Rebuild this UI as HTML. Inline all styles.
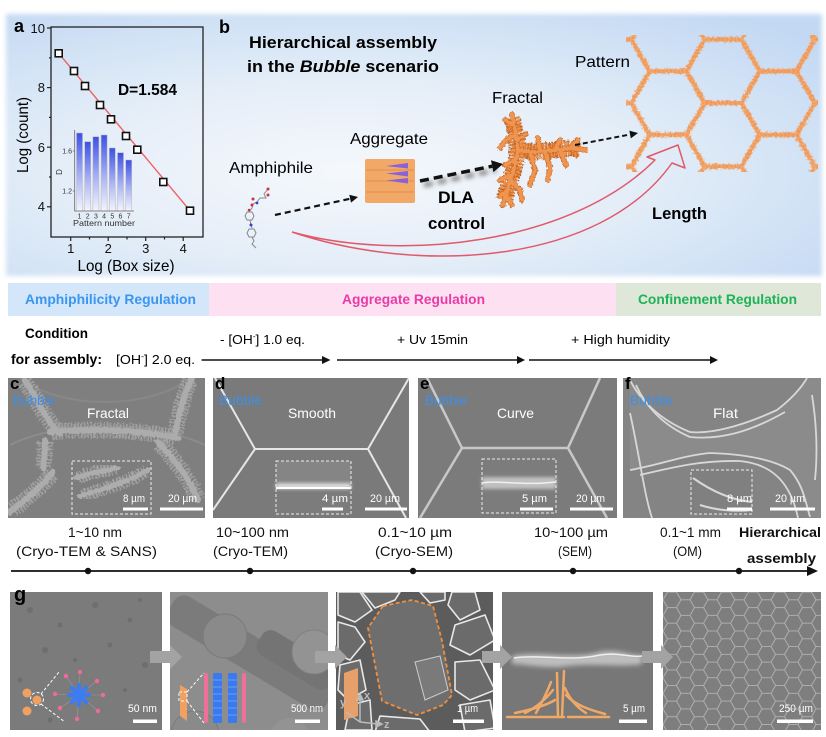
<!DOCTYPE html>
<html><head><meta charset="utf-8"><style>
html,body{margin:0;padding:0;background:#fff;}
svg{display:block;}
text{font-family:"Liberation Sans",Arial,sans-serif;}
</style></head><body>
<svg width="826" height="737" viewBox="0 0 826 737" xmlns="http://www.w3.org/2000/svg">
<defs>
 <radialGradient id="bgG" cx="0.42" cy="0.6" r="0.75">
  <stop offset="0" stop-color="#f5f8fc"/>
  <stop offset="0.45" stop-color="#e5eef8"/>
  <stop offset="1" stop-color="#c3d9f3"/>
 </radialGradient>
 <filter id="soft" x="-5%" y="-5%" width="110%" height="110%"><feGaussianBlur stdDeviation="2.5"/></filter>
 <filter id="blur1" x="-20%" y="-50%" width="140%" height="200%"><feGaussianBlur stdDeviation="1.5"/></filter>
 <filter id="blur2" x="-20%" y="-100%" width="140%" height="300%"><feGaussianBlur stdDeviation="2.5"/></filter>
 <filter id="rough" x="-10%" y="-10%" width="120%" height="120%">
  <feTurbulence type="fractalNoise" baseFrequency="0.4" numOctaves="2" seed="4" result="n"/>
  <feDisplacementMap in="SourceGraphic" in2="n" scale="4" xChannelSelector="R" yChannelSelector="G"/>
 </filter>
 <linearGradient id="barG" x1="0" y1="0" x2="0" y2="1">
  <stop offset="0" stop-color="#3c50e6"/>
  <stop offset="0.55" stop-color="#aab3f2"/>
  <stop offset="1" stop-color="#f4f5fd"/>
 </linearGradient>
 <pattern id="hexB" patternUnits="userSpaceOnUse" x="631.3" y="71.2" width="110.1" height="63.57">
  <path d="M0,31.785 L18.35,0 L55.05,0 L73.4,31.785 L55.05,63.57 L18.35,63.57 Z M73.4,31.785 L110.1,31.785" fill="none" stroke="#ef9a5a" stroke-width="4.5" stroke-linejoin="round"/>
  <path d="M0,31.785 L18.35,0 L55.05,0 L73.4,31.785 L55.05,63.57 L18.35,63.57 Z M73.4,31.785 L110.1,31.785" fill="none" stroke="#f4b27e" stroke-width="7" stroke-dasharray="1 3" opacity="0.8"/>
 </pattern>
 <pattern id="hexS" patternUnits="userSpaceOnUse" x="663" y="592" width="27" height="15.588">
  <path d="M0,7.794 L4.5,0 L13.5,0 L18,7.794 L13.5,15.588 L4.5,15.588 Z M18,7.794 L27,7.794" fill="none" stroke="#aeaeae" stroke-width="1"/>
 </pattern>
 <clipPath id="cpPat"><rect x="626" y="35" width="192" height="137"/></clipPath>
 <clipPath id="cpC"><rect x="8" y="378" width="197" height="140"/></clipPath>
 <clipPath id="cpD"><rect x="213" y="378" width="196" height="140"/></clipPath>
 <clipPath id="cpE"><rect x="418" y="378" width="199" height="140"/></clipPath>
 <clipPath id="cpF"><rect x="623" y="378" width="198" height="140"/></clipPath>
 <clipPath id="cpG1"><rect x="10" y="592" width="152" height="138"/></clipPath>
 <clipPath id="cpG2"><rect x="170" y="592" width="158" height="138"/></clipPath>
 <clipPath id="cpG3"><rect x="336" y="592" width="157" height="138"/></clipPath>
 <clipPath id="cpG4"><rect x="502" y="592" width="151" height="138"/></clipPath>
 <clipPath id="cpG5"><rect x="663" y="592" width="158" height="138"/></clipPath>
</defs>

<!-- ===== TOP BACKGROUND ===== -->
<rect x="6" y="14" width="816" height="262" fill="url(#bgG)" filter="url(#soft)"/>

<!-- ===== PANEL A ===== -->
<text x="14" y="32" font-size="18" font-weight="bold">a</text>
<rect x="51" y="27" width="152" height="210" fill="none" stroke="#222" stroke-width="1.3"/>
<g stroke="#222" stroke-width="1.2">
 <line x1="47" y1="28" x2="51" y2="28"/><line x1="47" y1="87.6" x2="51" y2="87.6"/>
 <line x1="47" y1="147.2" x2="51" y2="147.2"/><line x1="47" y1="206.8" x2="51" y2="206.8"/>
 <line x1="49" y1="57.8" x2="51" y2="57.8"/><line x1="49" y1="117.4" x2="51" y2="117.4"/>
 <line x1="49" y1="177" x2="51" y2="177"/>
 <line x1="70.7" y1="237" x2="70.7" y2="241"/><line x1="108.2" y1="237" x2="108.2" y2="241"/>
 <line x1="145.7" y1="237" x2="145.7" y2="241"/><line x1="183.2" y1="237" x2="183.2" y2="241"/>
 <line x1="89.5" y1="237" x2="89.5" y2="239.5"/><line x1="127" y1="237" x2="127" y2="239.5"/>
 <line x1="164.5" y1="237" x2="164.5" y2="239.5"/>
</g>
<g font-size="13" text-anchor="end" fill="#111">
 <text x="45" y="33">10</text><text x="45" y="92">8</text><text x="45" y="152">6</text><text x="45" y="211">4</text>
</g>
<g font-size="13" text-anchor="middle" fill="#111">
 <text x="70.7" y="253">1</text><text x="108.2" y="253">2</text><text x="145.7" y="253">3</text><text x="183.2" y="253">4</text>
</g>
<text x="126" y="271" font-size="16" text-anchor="middle" textLength="97" lengthAdjust="spacingAndGlyphs">Log (Box size)</text>
<text transform="translate(28,135) rotate(-90)" font-size="16" text-anchor="middle" textLength="76" lengthAdjust="spacingAndGlyphs">Log (count)</text>
<!-- inset -->
<g>
 <rect x="76.5" y="133" width="6" height="78" fill="url(#barG)" stroke="#bbb" stroke-width="0.5"/>
 <rect x="84.7" y="141.7" width="6" height="69.3" fill="url(#barG)" stroke="#bbb" stroke-width="0.5"/>
 <rect x="92.9" y="136.7" width="6" height="74.3" fill="url(#barG)" stroke="#bbb" stroke-width="0.5"/>
 <rect x="101.1" y="135" width="6" height="76" fill="url(#barG)" stroke="#bbb" stroke-width="0.5"/>
 <rect x="109.3" y="148" width="6" height="63" fill="url(#barG)" stroke="#bbb" stroke-width="0.5"/>
 <rect x="117.5" y="152.7" width="6" height="58.3" fill="url(#barG)" stroke="#bbb" stroke-width="0.5"/>
 <rect x="125.7" y="160" width="6" height="51" fill="url(#barG)" stroke="#bbb" stroke-width="0.5"/>
 <polyline points="74.7,130 74.7,211 134,211" fill="none" stroke="#666" stroke-width="0.8"/>
 <line x1="72.7" y1="151" x2="74.7" y2="151" stroke="#666" stroke-width="0.7"/>
 <line x1="72.7" y1="191" x2="74.7" y2="191" stroke="#666" stroke-width="0.7"/>
 <g font-size="7" fill="#333" text-anchor="end"><text x="72" y="153.5">1.6</text><text x="72" y="193.5">1.2</text></g>
 <text transform="translate(62,172) rotate(-90)" font-size="8" text-anchor="middle" fill="#333">D</text>
 <g font-size="7" fill="#333" text-anchor="middle">
  <text x="79.5" y="218.5">1</text><text x="87.7" y="218.5">2</text><text x="95.9" y="218.5">3</text><text x="104.1" y="218.5">4</text><text x="112.3" y="218.5">5</text><text x="120.5" y="218.5">6</text><text x="128.7" y="218.5">7</text>
 </g>
 <text x="104" y="226" font-size="8.5" fill="#333" text-anchor="middle" textLength="62" lengthAdjust="spacingAndGlyphs">Pattern number</text>
</g>
<line x1="58.7" y1="53.3" x2="190" y2="210.7" stroke="#f06060" stroke-width="1.4"/>
<g fill="#fff" stroke="#111" stroke-width="1.6">
 <rect x="55.2" y="49.8" width="7" height="7"/><rect x="70.5" y="67.5" width="7" height="7"/>
 <rect x="81.5" y="82.5" width="7" height="7"/><rect x="96.5" y="101.5" width="7" height="7"/>
 <rect x="107.5" y="115.8" width="7" height="7"/><rect x="122.5" y="132.5" width="7" height="7"/>
 <rect x="133.8" y="146.2" width="7" height="7"/><rect x="159.8" y="178.5" width="7" height="7"/>
 <rect x="186.5" y="207.2" width="7" height="7"/>
</g>
<text x="118" y="95" font-size="16" font-weight="bold" textLength="59" lengthAdjust="spacingAndGlyphs">D=1.584</text>

<!-- ===== PANEL B ===== -->
<text x="219" y="33" font-size="18" font-weight="bold">b</text>
<text x="249" y="48" font-size="17" font-weight="bold" textLength="188" lengthAdjust="spacingAndGlyphs">Hierarchical assembly</text>
<text x="247" y="72" font-size="17" font-weight="bold" textLength="192" lengthAdjust="spacingAndGlyphs">in the <tspan font-style="italic">Bubble</tspan> scenario</text>
<text x="575" y="67" font-size="16" textLength="55" lengthAdjust="spacingAndGlyphs">Pattern</text>
<text x="492" y="103" font-size="16" textLength="51" lengthAdjust="spacingAndGlyphs">Fractal</text>
<text x="350" y="144" font-size="16" textLength="78" lengthAdjust="spacingAndGlyphs">Aggregate</text>
<text x="229" y="173" font-size="16" textLength="84" lengthAdjust="spacingAndGlyphs">Amphiphile</text>
<text x="438" y="203" font-size="17" font-weight="bold" textLength="36" lengthAdjust="spacingAndGlyphs">DLA</text>
<text x="428" y="229" font-size="17" font-weight="bold" textLength="57" lengthAdjust="spacingAndGlyphs">control</text>
<text x="652" y="219" font-size="17" font-weight="bold" textLength="55" lengthAdjust="spacingAndGlyphs">Length</text>

<!-- honeycomb pattern -->
<g clip-path="url(#cpPat)">
 <g filter="url(#rough)">
  <rect x="600" y="20" width="240" height="170" fill="url(#hexB)"/>
 </g>
</g>

<!-- molecule -->
<g stroke="#888" stroke-width="1" fill="none">
 <polyline points="268,189 264,194 266,198 260,198 257,202 253,204 252,208 249,212"/>
 <polygon points="247,212 252,212 254,216 252,220 247,220 245,216"/>
 <polyline points="250,220 251,225 252,228"/>
 <polygon points="249,229 254,229 256,233 254,237 249,237 247,233"/>
 <polyline points="252,237 254,241 252,244 256,248"/>
</g>
<g>
 <circle cx="268" cy="189" r="1.5" fill="#d0304a"/><circle cx="268" cy="195" r="1.5" fill="#d0304a"/>
 <circle cx="253" cy="199" r="1.5" fill="#d0304a"/><circle cx="252" cy="205" r="1.5" fill="#d0304a"/>
 <circle cx="257" cy="203" r="1.4" fill="#3344cc"/><circle cx="251" cy="225" r="1.5" fill="#3344cc"/>
 <circle cx="249" cy="210" r="1.3" fill="#d0304a"/>
</g>

<!-- aggregate block -->
<rect x="365" y="159" width="50" height="44" rx="2" fill="#f2a866"/>
<g stroke="#e08e4c" stroke-width="1">
 <line x1="366" y1="170" x2="414" y2="170"/><line x1="366" y1="181" x2="414" y2="181"/><line x1="366" y1="192" x2="414" y2="192"/>
</g>
<g fill="#8a62d8">
 <polygon points="386,166 408,163 408,168.5"/>
 <polygon points="386,173.5 408,171 408,176.5"/>
 <polygon points="386,180.5 408,178 408,183.5"/>
</g>

<!-- fractal -->
<g fill="none" stroke-linejoin="round" filter="url(#rough)">
 <g stroke="#c06828" stroke-width="17" stroke-dasharray="2.2 1" stroke-linecap="butt">
  <path d="M512,118 L515,130 L518,150 L514,170 L508,188 L504,200"/>
  <path d="M520,150 L535,152 L555,150 L570,148 L580,150"/>
 </g>
 <g stroke="#f0904a" stroke-width="14" stroke-dasharray="1.6 1.2" stroke-linecap="butt">
  <path d="M512,118 L515,130 L518,150 L514,170 L508,188 L504,200"/>
  <path d="M520,150 L535,152 L555,150 L570,148 L580,150"/>
 </g>
 <g stroke="#c86a28" stroke-width="5.5" stroke-linecap="round">
  <path d="M512,114 L515,130 L518,150 L514,170 L508,188 L503,205"/>
  <path d="M518,150 L535,152 L555,150 L572,148 L586,150"/>
  <path d="M530,152 L535,170 L530,185 M545,151 L550,168 L548,180 M560,150 L566,165 M540,151 L538,138 M555,150 L560,140 M570,149 L578,140 M514,125 L505,120 M516,135 L506,140 L500,148 M515,160 L505,165 M512,175 L500,180 M508,190 L500,196 M510,180 L520,190 L522,200 M506,195 L512,205 M517,140 L526,134"/>
 </g>
 <g stroke="#f09550" stroke-width="4" stroke-linecap="round">
  <path d="M512,114 L515,130 L518,150 L514,170 L508,188 L503,205"/>
  <path d="M518,150 L535,152 L555,150 L572,148 L586,150"/>
  <path d="M530,152 L535,170 L530,185 M545,151 L550,168 L548,180 M560,150 L566,165 M540,151 L538,138 M555,150 L560,140 M570,149 L578,140 M514,125 L505,120 M516,135 L506,140 L500,148 M515,160 L505,165 M512,175 L500,180 M508,190 L500,196 M510,180 L520,190 L522,200 M506,195 L512,205 M517,140 L526,134"/>
 </g>
</g>

<!-- dashed arrows -->
<line x1="275" y1="215" x2="350.2" y2="198.7" stroke="#111" stroke-width="2.2" stroke-dasharray="6 4"/>
<polygon points="358,197 351,202.6 349.3,194.8" fill="#111"/>
<line x1="424" y1="185" x2="496" y2="170" stroke="#888" stroke-width="5" stroke-dasharray="9 5" filter="url(#blur2)"/>
<line x1="420" y1="181" x2="492.2" y2="166.2" stroke="#111" stroke-width="3.5" stroke-dasharray="9 5"/>
<polygon points="503,164 493.4,172.1 491,160.3" fill="#111"/>
<line x1="575" y1="145" x2="630.1" y2="134.5" stroke="#111" stroke-width="2" stroke-dasharray="5 3"/>
<polygon points="638,133 630.8,138.4 629.4,130.6" fill="#111"/>

<!-- red hollow arrow -->
<g fill="none" stroke="#e05a6c" stroke-width="1.5" stroke-linejoin="round">
 <path d="M292,232 C400,262 570,245 655,160 L647,157 L678,145 L685,168 L672,163 C600,265 420,275 292,232"/>
</g>

<!-- ===== REGULATION BAND ===== -->
<rect x="8" y="283" width="201" height="33" fill="#d3e6fa"/>
<rect x="209" y="283" width="407" height="33" fill="#fde0f2"/>
<rect x="616" y="283" width="205" height="33" fill="#dfe7d8"/>
<text x="25" y="304" font-size="14" font-weight="bold" fill="#3a96f0" textLength="171" lengthAdjust="spacingAndGlyphs">Amphiphilicity Regulation</text>
<text x="342" y="304" font-size="14" font-weight="bold" fill="#ea3aa6" textLength="143" lengthAdjust="spacingAndGlyphs">Aggregate Regulation</text>
<text x="638" y="304" font-size="14" font-weight="bold" fill="#1db356" textLength="159" lengthAdjust="spacingAndGlyphs">Confinement Regulation</text>

<!-- conditions -->
<text x="25" y="338" font-size="13.5" font-weight="bold" textLength="63" lengthAdjust="spacingAndGlyphs">Condition</text>
<text x="11" y="364" font-size="13.5" font-weight="bold" textLength="91" lengthAdjust="spacingAndGlyphs">for assembly:</text>
<text x="116" y="364" font-size="13" textLength="79" lengthAdjust="spacingAndGlyphs">[OH<tspan font-size="8" dy="-5">-</tspan><tspan dy="5">] 2.0 eq.</tspan></text>
<text x="220" y="344" font-size="13" textLength="85" lengthAdjust="spacingAndGlyphs">- [OH<tspan font-size="8" dy="-5">-</tspan><tspan dy="5">] 1.0 eq.</tspan></text>
<text x="397" y="344" font-size="13" textLength="71" lengthAdjust="spacingAndGlyphs">+ Uv 15min</text>
<text x="571" y="344" font-size="13" textLength="99" lengthAdjust="spacingAndGlyphs">+  High humidity</text>
<g stroke="#111" stroke-width="1.6">
 <line x1="201.6" y1="360" x2="324" y2="360"/><line x1="337" y1="360" x2="519" y2="360"/><line x1="529" y1="360" x2="712" y2="360"/>
</g>
<g fill="#111">
 <polygon points="330.5,360 322,356 322,364"/><polygon points="525,360 517,356 517,364"/><polygon points="718,360 710,356 710,364"/>
</g>

<!-- ===== PANEL C ===== -->
<g clip-path="url(#cpC)">
 <rect x="8" y="378" width="197" height="140" fill="#7f7f7f"/>
 <path d="M10,445 C60,420 150,420 205,445" fill="none" stroke="#8c8c8c" stroke-width="2"/>
 <path d="M20,378 C60,410 150,410 190,378" fill="none" stroke="#888" stroke-width="2"/>
 <g fill="none" filter="url(#rough)">
  <g stroke="#a0a0a0" stroke-width="16" stroke-dasharray="1.8 1.4" stroke-linecap="butt">
   <path d="M25,382 C38,400 45,420 60,433"/>
   <path d="M52,432 C90,428 140,430 176,438"/>
   <path d="M190,380 C184,395 178,415 175,434"/>
   <path d="M160,444 C175,460 190,480 198,500"/>
   <path d="M45,442 C45,455 44,462 43,468"/>
   <path d="M52,474 C38,490 25,500 12,510"/>
  </g>
  <g stroke="#acacac" stroke-width="6" stroke-linecap="round">
   <path d="M25,380 C38,400 45,420 60,433"/>
   <path d="M50,432 C90,428 140,430 178,438"/>
   <path d="M192,378 C184,395 178,415 175,436"/>
   <path d="M158,442 C175,460 190,480 198,500"/>
   <path d="M45,440 C45,455 44,462 43,468"/>
   <path d="M53,472 C38,490 25,500 10,512"/>
  </g>
 </g>
 <rect x="72" y="461" width="79" height="53" fill="#7d7d7d"/>
 <g fill="none" filter="url(#rough)">
  <g stroke="#a3a3a3" stroke-width="13" stroke-dasharray="1.8 1.6" stroke-linecap="butt">
   <path d="M78,478 C92,472 105,471 116,468"/><path d="M82,496 C100,490 128,482 146,471"/>
  </g>
  <g stroke="#adadad" stroke-width="5" stroke-linecap="round">
   <path d="M76,478 C92,472 105,471 118,468"/><path d="M80,496 C100,490 128,482 148,470"/>
  </g>
 </g>
 <rect x="72" y="461" width="79" height="53" fill="none" stroke="#eee" stroke-width="1" stroke-dasharray="3 2"/>
</g>
<text x="10" y="389" font-size="17" font-weight="bold">c</text>
<text x="13" y="405" font-size="14" fill="#3d8fe8" textLength="42" lengthAdjust="spacingAndGlyphs">Bubble</text>
<text x="87" y="418" font-size="14" fill="#fff" textLength="42" lengthAdjust="spacingAndGlyphs">Fractal</text>

<!-- ===== PANEL D ===== -->
<g clip-path="url(#cpD)">
 <rect x="213" y="378" width="196" height="140" fill="#7a7a7a"/>
 <g fill="none" stroke="#e6e6e6" stroke-width="2">
  <polyline points="215,378 255,449 368,449 409,378"/>
  <line x1="255" y1="449" x2="213" y2="510"/>
  <line x1="368" y1="449" x2="406" y2="518"/>
 </g>
 <rect x="276" y="461" width="75" height="53" fill="#7c7c7c"/>
 <rect x="276" y="461" width="75" height="22" fill="#858585"/>
 <rect x="276" y="483" width="75" height="6" fill="#dcdcdc" filter="url(#blur1)"/>
 <line x1="276" y1="488" x2="351" y2="488" stroke="#fff" stroke-width="2"/>
 <rect x="276" y="461" width="75" height="53" fill="none" stroke="#eee" stroke-width="1" stroke-dasharray="3 2"/>
</g>
<text x="215" y="389" font-size="17" font-weight="bold">d</text>
<text x="219" y="405" font-size="14" fill="#3d8fe8" textLength="43" lengthAdjust="spacingAndGlyphs">Bubble</text>
<text x="288" y="418" font-size="14" fill="#fff" textLength="48" lengthAdjust="spacingAndGlyphs">Smooth</text>

<!-- ===== PANEL E ===== -->
<g clip-path="url(#cpE)">
 <rect x="418" y="378" width="199" height="140" fill="#7b7b7b"/>
 <g fill="none" stroke="#c8c8c8" stroke-width="2.5">
  <polyline points="427,378 462,448 568,448 600,378"/>
  <line x1="462" y1="448" x2="420" y2="518"/>
  <line x1="568" y1="448" x2="607" y2="518"/>
 </g>
 <rect x="482" y="459" width="74" height="54" fill="#7c7c7c"/>
 <rect x="482" y="477" width="74" height="12" fill="#c0c0c0" filter="url(#blur1)"/>
 <path d="M482,483 C500,480 520,486 556,482" stroke="#f0f0f0" stroke-width="1.5" fill="none"/>
 <rect x="482" y="459" width="74" height="54" fill="none" stroke="#eee" stroke-width="1" stroke-dasharray="3 2"/>
</g>
<text x="420" y="389" font-size="17" font-weight="bold">e</text>
<text x="425" y="405" font-size="14" fill="#3d8fe8" textLength="42" lengthAdjust="spacingAndGlyphs">Bubble</text>
<text x="497" y="418" font-size="14" fill="#fff" textLength="37" lengthAdjust="spacingAndGlyphs">Curve</text>

<!-- ===== PANEL F ===== -->
<g clip-path="url(#cpF)">
 <rect x="623" y="378" width="198" height="140" fill="#848484"/>
 <path d="M630,380 C640,400 660,420 690,432 C710,434 740,427 777,410 C790,400 800,390 807,378 L821,378 L821,518 L810,517 C805,500 803,485 790,470 C770,458 740,454 710,453 C680,456 660,465 630,470 Z" fill="#8b8b8b"/>
 <g fill="none" stroke="#d8d8d8" stroke-width="1.8">
  <path d="M630,380 C640,400 660,420 690,432 C710,434 740,427 777,410 C790,400 800,390 807,378"/>
  <path d="M630,470 C660,465 680,456 710,453 C740,454 770,458 790,470 C803,485 805,500 810,517"/>
  <path d="M636,385 C645,405 662,425 690,437 C720,440 750,432 785,412"/>
  <path d="M640,475 C670,468 700,460 740,461 C770,464 790,480 798,518"/>
  <path d="M630,413 C636,440 640,465 645,490 C648,505 650,512 652,518"/>
  <path d="M812,395 C816,420 818,450 815,480"/>
 </g>
 <rect x="691" y="470" width="61" height="44" fill="#808080"/>
 <g fill="none" stroke="#d8d8d8" stroke-width="2"><path d="M693,478 C710,490 730,500 752,502"/><path d="M700,505 C715,510 735,512 752,510"/></g>
 <rect x="691" y="470" width="61" height="44" fill="none" stroke="#eee" stroke-width="1" stroke-dasharray="3 2"/>
</g>
<text x="625" y="389" font-size="17" font-weight="bold">f</text>
<text x="630" y="405" font-size="14" fill="#3d8fe8" textLength="43" lengthAdjust="spacingAndGlyphs">Bubble</text>
<text x="713" y="418" font-size="14" fill="#fff" textLength="25" lengthAdjust="spacingAndGlyphs">Flat</text>

<!-- scale bars c-f -->
<g fill="#fff" font-size="11">
 <text x="123" y="502" textLength="22" lengthAdjust="spacingAndGlyphs">8 µm</text>
 <text x="168" y="502" textLength="29" lengthAdjust="spacingAndGlyphs">20 µm</text>
 <text x="322" y="502" textLength="26" lengthAdjust="spacingAndGlyphs">4 µm</text>
 <text x="370" y="502" textLength="30" lengthAdjust="spacingAndGlyphs">20 µm</text>
 <text x="522" y="502" textLength="25" lengthAdjust="spacingAndGlyphs">5 µm</text>
 <text x="576" y="502" textLength="29" lengthAdjust="spacingAndGlyphs">20 µm</text>
 <text x="727" y="502" textLength="25" lengthAdjust="spacingAndGlyphs">8 µm</text>
 <text x="775" y="502" textLength="30" lengthAdjust="spacingAndGlyphs">20 µm</text>
 <rect x="123" y="507.5" width="25" height="3"/><rect x="160" y="507.5" width="43" height="3"/>
 <rect x="322" y="507.5" width="21" height="3"/><rect x="365" y="507.5" width="42" height="3"/>
 <rect x="520" y="507.5" width="33" height="3"/><rect x="570" y="507.5" width="43" height="3"/>
 <rect x="727" y="507.5" width="25" height="3"/><rect x="770" y="507.5" width="45" height="3"/>
</g>

<!-- ===== SCALE ROW ===== -->
<g font-size="14" fill="#111">
 <text x="68" y="537" textLength="54" lengthAdjust="spacingAndGlyphs">1~10 nm</text>
 <text x="16" y="556" textLength="141" lengthAdjust="spacingAndGlyphs">(Cryo-TEM &amp; SANS)</text>
 <text x="216" y="537" textLength="73" lengthAdjust="spacingAndGlyphs">10~100 nm</text>
 <text x="213" y="556" textLength="75" lengthAdjust="spacingAndGlyphs">(Cryo-TEM)</text>
 <text x="378" y="537" textLength="74" lengthAdjust="spacingAndGlyphs">0.1~10 µm</text>
 <text x="375" y="556" textLength="78" lengthAdjust="spacingAndGlyphs">(Cryo-SEM)</text>
 <text x="534" y="537" textLength="74" lengthAdjust="spacingAndGlyphs">10~100 µm</text>
 <text x="558" y="556" textLength="34" lengthAdjust="spacingAndGlyphs">(SEM)</text>
 <text x="660" y="537" textLength="61" lengthAdjust="spacingAndGlyphs">0.1~1 mm</text>
 <text x="673" y="556" textLength="29" lengthAdjust="spacingAndGlyphs">(OM)</text>
 <text x="739" y="537" font-weight="bold" textLength="82" lengthAdjust="spacingAndGlyphs">Hierarchical</text>
 <text x="747" y="563" font-weight="bold" textLength="69" lengthAdjust="spacingAndGlyphs">assembly</text>
</g>
<line x1="11" y1="571" x2="810" y2="571" stroke="#111" stroke-width="1.8"/>
<polygon points="818,571 807,566 807,576" fill="#111"/>
<g fill="#111"><circle cx="88" cy="571" r="3.2"/><circle cx="250" cy="571" r="3.2"/><circle cx="413" cy="571" r="3.2"/><circle cx="573" cy="571" r="3.2"/><circle cx="739" cy="571" r="3.2"/></g>

<!-- ===== PANEL G ===== -->
<!-- g1 -->
<g clip-path="url(#cpG1)">
 <rect x="10" y="592" width="152" height="138" fill="#7b7b7b"/>
 <g fill="#6e6e6e">
  <circle cx="30" cy="610" r="3"/><circle cx="60" cy="625" r="2.5"/><circle cx="95" cy="605" r="3"/><circle cx="130" cy="620" r="2.5"/>
  <circle cx="45" cy="650" r="3"/><circle cx="110" cy="645" r="2.5"/><circle cx="145" cy="665" r="3"/><circle cx="75" cy="660" r="2"/>
  <circle cx="140" cy="600" r="2"/><circle cx="20" cy="680" r="2.5"/><circle cx="125" cy="690" r="2"/><circle cx="50" cy="720" r="2.5"/>
 </g>
 <g stroke="#999" stroke-width="0.6">
  <line x1="79" y1="695" x2="66" y2="676"/><line x1="79" y1="695" x2="80" y2="672"/><line x1="79" y1="695" x2="97" y2="681"/>
  <line x1="79" y1="695" x2="103" y2="695"/><line x1="79" y1="695" x2="98" y2="711"/><line x1="79" y1="695" x2="77" y2="719"/>
  <line x1="79" y1="695" x2="60" y2="708"/><line x1="79" y1="695" x2="55" y2="694"/>
 </g>
 <g fill="#3b7cf5" transform="translate(79,695)">
  <rect x="-2" y="-12" width="4" height="9" rx="1"/>
  <rect x="-2" y="-12" width="4" height="9" rx="1" transform="rotate(45)"/>
  <rect x="-2" y="-12" width="4" height="9" rx="1" transform="rotate(90)"/>
  <rect x="-2" y="-12" width="4" height="9" rx="1" transform="rotate(135)"/>
  <rect x="-2" y="-12" width="4" height="9" rx="1" transform="rotate(180)"/>
  <rect x="-2" y="-12" width="4" height="9" rx="1" transform="rotate(225)"/>
  <rect x="-2" y="-12" width="4" height="9" rx="1" transform="rotate(270)"/>
  <rect x="-2" y="-12" width="4" height="9" rx="1" transform="rotate(315)"/>
  <circle r="3.5"/>
 </g>
 <g fill="#f06a9a">
  <circle cx="66" cy="676" r="2.2"/><circle cx="80" cy="672" r="2.2"/><circle cx="97" cy="681" r="2.2"/><circle cx="103" cy="695" r="2.2"/>
  <circle cx="98" cy="711" r="2.2"/><circle cx="77" cy="719" r="2.2"/><circle cx="60" cy="708" r="2.2"/><circle cx="55" cy="694" r="2.2"/>
 </g>
 <g fill="#f0a060"><circle cx="27" cy="693" r="4.5"/><circle cx="37" cy="700" r="4.5"/><circle cx="27" cy="711" r="4.5"/></g>
 <g fill="none" stroke="#fff" stroke-width="1" stroke-dasharray="3 2">
  <circle cx="37" cy="699" r="6.5"/><line x1="41" y1="694" x2="59" y2="672"/><line x1="41" y1="704" x2="65" y2="722"/>
 </g>
</g>
<text x="14" y="601" font-size="20" font-weight="bold">g</text>

<!-- g2 -->
<g clip-path="url(#cpG2)">
 <rect x="170" y="592" width="158" height="138" fill="#8d8d8d"/>
 <g transform="translate(250,653) rotate(31)">
  <rect x="-92" y="-17" width="184" height="34" rx="12" fill="#7b7b7b"/>
 </g>
 <g transform="translate(296,660) rotate(31)">
  <rect x="-42" y="-14" width="84" height="28" rx="10" fill="#747474"/>
 </g>
 <circle cx="225" cy="636" r="22" fill="#8a8a8a" stroke="#7a7a7a" stroke-width="1"/>
 <circle cx="314" cy="652" r="22" fill="#939393" stroke="#808080" stroke-width="1"/>
 <circle cx="195" cy="735" r="24" fill="#8a8a8a" stroke="#7a7a7a" stroke-width="1"/>
 <circle cx="290" cy="738" r="20" fill="#939393"/>
 <polygon points="180,685 187,689 187,721 180,716" fill="#f0a060"/>
 <g fill="none" stroke="#fff" stroke-width="1" stroke-dasharray="3 2">
  <rect x="179" y="692" width="8" height="9"/><line x1="187" y1="692" x2="204" y2="673"/><line x1="187" y1="701" x2="204" y2="723"/>
 </g>
 <rect x="204" y="673" width="4" height="50" rx="2" fill="#f0709a"/>
 <rect x="213" y="673" width="9" height="50" rx="1.5" fill="#3a7af0"/>
 <rect x="228" y="673" width="9" height="50" rx="1.5" fill="#3a7af0"/>
 <rect x="242" y="673" width="4" height="50" rx="2" fill="#f0709a"/>
 <g stroke="#7aa6f6" stroke-width="0.8">
  <line x1="213" y1="680" x2="222" y2="680"/><line x1="213" y1="687" x2="222" y2="687"/><line x1="213" y1="694" x2="222" y2="694"/><line x1="213" y1="701" x2="222" y2="701"/><line x1="213" y1="708" x2="222" y2="708"/><line x1="213" y1="715" x2="222" y2="715"/>
  <line x1="228" y1="680" x2="237" y2="680"/><line x1="228" y1="687" x2="237" y2="687"/><line x1="228" y1="694" x2="237" y2="694"/><line x1="228" y1="701" x2="237" y2="701"/><line x1="228" y1="708" x2="237" y2="708"/><line x1="228" y1="715" x2="237" y2="715"/>
 </g>
</g>

<!-- g3 -->
<g clip-path="url(#cpG3)">
 <rect x="336" y="592" width="157" height="138" fill="#5c5c5c"/>
 <g fill="#6b6b6b" stroke="#e8e8e8" stroke-width="1.6" stroke-linejoin="round">
  <polygon points="338,592 360,592 372,610 355,622 338,615"/>
  <polygon points="362,592 400,592 395,600 375,608"/>
  <polygon points="338,622 355,627 365,642 350,660 338,655"/>
  <polygon points="340,665 360,660 366,690 348,700 338,690"/>
  <polygon points="452,592 475,592 480,610 460,620 448,605"/>
  <polygon points="455,625 485,615 495,640 470,655 450,645"/>
  <polygon points="455,662 480,660 495,690 470,700 455,690"/>
  <polygon points="460,705 490,700 495,728 465,732"/>
  <polygon points="420,592 445,592 445,600 430,603"/>
  <polygon points="380,716 420,719 430,732 375,732"/>
  <polygon points="350,705 370,700 372,730 345,730"/>
 </g>
 <polygon points="383,606 412,600 433,606 442,641 452,695 443,705 417,715 382,701 368,628" fill="#6e6e6e"/>
 <polygon points="415,662 440,656 448,690 425,700" fill="#7a7a7a" stroke="#ccc" stroke-width="1"/>
 <polygon points="383,606 412,600 433,606 442,641 452,695 443,705 417,715 382,701 368,628" fill="none" stroke="#f0903e" stroke-width="1.8" stroke-dasharray="4 2.5"/>
 <polygon points="344,673 358,668 358,716 344,720" fill="#e8a06a"/>
 <g stroke="#bbb" stroke-width="1.5" fill="#bbb">
  <line x1="360" y1="722" x2="360" y2="698"/><polygon points="360,694 357,700 363,700"/>
  <line x1="360" y1="722" x2="378" y2="724"/><polygon points="382,724 376,721 376,727"/>
  <line x1="360" y1="722" x2="346" y2="712"/>
 </g>
 <g font-size="11" font-weight="bold" fill="#bbb"><text x="364" y="699">x</text><text x="340" y="706">y</text><text x="384" y="728">z</text></g>
</g>

<!-- g4 -->
<g clip-path="url(#cpG4)">
 <rect x="502" y="592" width="151" height="138" fill="#777"/>
 <path d="M512,656 C540,650 570,660 600,652 C620,648 635,658 642,654 L642,664 C620,668 590,662 560,667 C540,668 525,664 512,664 Z" fill="#bdbdbd" filter="url(#blur2)"/>
 <path d="M514,658 C540,654 570,662 600,655 C620,652 630,658 642,656" stroke="#eee" stroke-width="1.5" fill="none"/>
 <g stroke="#f0a866" stroke-width="2.5" fill="none" stroke-linecap="round">
  <line x1="507" y1="717" x2="564" y2="717"/><line x1="568" y1="717" x2="609" y2="717"/>
  <path d="M558,717 L557,673"/><path d="M562,717 L564,671"/>
  <path d="M555,700 C545,706 530,710 515,713"/>
  <path d="M553,690 C545,700 535,708 525,713"/>
  <path d="M551,682 C546,695 540,706 536,713"/>
  <path d="M566,695 C575,705 590,710 605,714"/>
  <path d="M565,688 C570,700 578,708 586,713"/>
 </g>
</g>

<!-- g5 -->
<g clip-path="url(#cpG5)">
 <rect x="663" y="592" width="158" height="138" fill="#7e7e7e"/>
 <rect x="663" y="592" width="158" height="138" fill="url(#hexS)"/>
</g>

<!-- gray arrows -->
<g fill="#a3a3a3">
 <rect x="150" y="651" width="21" height="12"/><polygon points="170,645 182,657 170,669"/>
 <rect x="315" y="651" width="21" height="12"/><polygon points="335,645 347,657 335,669"/>
 <rect x="482" y="651" width="19" height="12"/><polygon points="500,645 512,657 500,669"/>
 <rect x="642" y="651" width="20" height="12"/><polygon points="661,645 673,657 661,669"/>
</g>

<!-- g scale bars -->
<g fill="#fff" font-size="11">
 <text x="128" y="712" textLength="29" lengthAdjust="spacingAndGlyphs">50 nm</text>
 <text x="291" y="712" textLength="32" lengthAdjust="spacingAndGlyphs">500 nm</text>
 <text x="457" y="712" textLength="21" lengthAdjust="spacingAndGlyphs">1 µm</text>
 <text x="623" y="712" textLength="22" lengthAdjust="spacingAndGlyphs">5 µm</text>
 <text x="779" y="712" textLength="34" lengthAdjust="spacingAndGlyphs">250 µm</text>
 <rect x="133" y="719.5" width="24" height="3.5"/>
 <rect x="295" y="719.5" width="25" height="3.5"/>
 <rect x="453" y="719.5" width="31" height="3.5"/>
 <rect x="619" y="719.5" width="28" height="3.5"/>
 <rect x="777" y="719.5" width="36" height="3.5"/>
</g>
</svg>
</body></html>
